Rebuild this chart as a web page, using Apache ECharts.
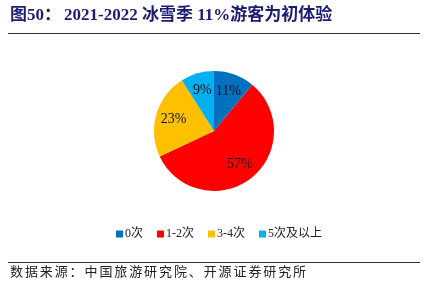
<!DOCTYPE html>
<html><head><meta charset="utf-8">
<script src="https://cdn.jsdelivr.net/npm/echarts@6/dist/echarts.min.js"></script>
<style>html,body{margin:0;padding:0;background:#fff}#c{width:428px;height:283px}</style>
</head><body><div id="c"></div>
<script>
const categories = ['0次', '1-2次', '3-4次', '5次及以上'];
const values = [11, 57, 23, 9];
const colors = ['#0070C0', '#FF0000', '#FFC000', '#00B0F0'];
const titlePrefix = '图50：';
const titleText = '2021-2022 冰雪季 11%游客为初体验';
const sourceText = '数据来源：中国旅游研究院、开源证券研究所';

const chart = echarts.init(document.getElementById('c'));
const data = categories.map((n, i) => ({name: n, value: values[i], itemStyle: {color: colors[i]}}));
const titleFont = 'bold 17px "Liberation Serif", "Noto Sans CJK SC"';
const sourceChars = Array.from(sourceText).map((ch, i) => ({
  type: 'text', x: 10 + i * 14.9, y: 265,
  style: {text: ch, font: '13px "Noto Sans CJK SC"', fill: '#222'}
}));
chart.setOption({
  animation: false,
  legend: {
    data: categories, top: 223, left: 111, itemWidth: 7, itemHeight: 7, itemGap: 14, icon: 'rect',
    textStyle: {fontFamily: 'Liberation Serif, Noto Sans CJK SC', fontSize: 12, color: '#222', padding: [0, 0, 0, -3]}
  },
  graphic: [
    {type: 'text', left: 10, top: 7, style: {text: titlePrefix, font: titleFont, fill: '#1C1C74'}},
    {type: 'text', left: 64, top: 7, style: {text: titleText, font: titleFont, fill: '#1C1C74'}},
    {type: 'line', shape: {x1: 8, y1: 33.5, x2: 420, y2: 33.5}, style: {stroke: '#333', lineWidth: 1}},
    {type: 'line', shape: {x1: 8, y1: 262.5, x2: 420, y2: 262.5}, style: {stroke: '#333', lineWidth: 1}}
  ].concat(sourceChars),
  series: [
    {
      type: 'pie', center: [214, 131], radius: [0, 60], startAngle: 90, clockwise: true,
      data: data, label: {show: false}, labelLine: {show: false}, silent: true
    },
    {
      type: 'pie', center: [214, 131], radius: [18, 60], startAngle: 90, clockwise: true,
      data: data.map(d => ({name: d.name, value: d.value, itemStyle: {color: 'rgba(0,0,0,0)'}})),
      label: {show: true, position: 'inside', formatter: '{c}%', fontFamily: 'Liberation Serif', fontSize: 14, color: '#111'},
      labelLine: {show: false}, silent: true
    }
  ]
});
</script></body></html>
